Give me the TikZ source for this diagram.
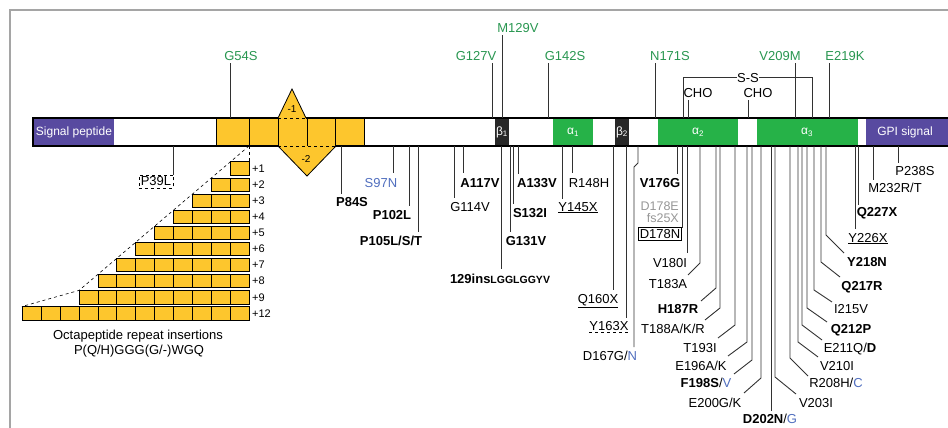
\documentclass[tikz,border=0pt]{standalone}
\usepackage{fontspec}
\setmainfont{Liberation Sans}
\definecolor{tgreen}{RGB}{40,150,80}
\definecolor{fgreen}{RGB}{38,178,72}
\definecolor{purp}{RGB}{88,74,160}
\definecolor{yel}{RGB}{253,198,45}
\definecolor{dk}{RGB}{40,40,40}
\definecolor{bl}{RGB}{80,110,190}
\definecolor{lg}{RGB}{150,150,150}
\definecolor{framec}{RGB}{165,165,165}
\definecolor{ln}{RGB}{50,50,50}
\tikzset{
 lab/.style={inner sep=0pt, anchor=base, font=\fontsize{13}{15}\selectfont, text=black},
 toplab/.style={lab, text=tgreen},
 inlab/.style={inner sep=0pt, font=\fontsize{12}{14}\selectfont, text=white},
 conn/.style={draw=ln, line width=0.9pt},
 ybox/.style={fill=yel, draw=black, line width=0.6pt},
 smalllab/.style={inner sep=0pt, font=\fontsize{11}{13}\selectfont},
 barline/.style={line width=2pt, draw=black},
}
% vertical mutation: name, x, yend, label x, label baseline, text
\newcommand\mutv[6]{%
 \coordinate (#1b) at (#2,146);
 \coordinate (#1e) at (#2,#3);
 \node[lab] (#1) at (#4,#5) {#6};
 \draw[conn] (#1b) -- (#1e);}
% bent mutation: name, x, ybend, xend, yend, label x, label baseline, text
\newcommand\mutb[8]{%
 \coordinate (#1b) at (#2,146);
 \coordinate (#1k) at (#2,#3);
 \coordinate (#1e) at (#4,#5);
 \node[lab] (#1) at (#6,#7) {#8};
 \draw[conn] (#1b) -- (#1k) -- (#1e);}
% top mutation: name, x, ytop, label x, label baseline, text
\newcommand\mutt[6]{%
 \coordinate (#1b) at (#2,118);
 \coordinate (#1e) at (#2,#3);
 \node[toplab] (#1) at (#4,#5) {#6};
 \draw[conn] (#1b) -- (#1e);}
\begin{document}
\begin{tikzpicture}[x=1pt,y=-1pt]
\useasboundingbox (0,0) rectangle (948,428);
\draw[framec, line width=1.5pt] (948,10) -- (10,10) -- (10,428);

% bar fills
\fill[purp] (33,118) rectangle (114,146);
\fill[yel] (216,118) rectangle (364,146);
\fill[dk] (495,118) rectangle (509,146);
\fill[fgreen] (553,118) rectangle (593,146);
\fill[dk] (615,118) rectangle (629,146);
\fill[fgreen] (658,118) rectangle (738,146);
\fill[fgreen] (757,118) rectangle (858,146);
\fill[purp] (866,118) rectangle (952,146);
\foreach \xx in {216,249,278,307,335,364} \draw[black, line width=0.8pt] (\xx,118) -- (\xx,146);

% deletion triangles
\fill[yel] (278,118) -- (292,89) -- (306,118) -- cycle;
\draw[black, line width=0.8pt] (278,118) -- (292,89) -- (306,118);
\draw[black, line width=0.6pt, dashed] (278,118) -- (306,118);
\fill[yel] (278,146) -- (307,176) -- (336,146) -- cycle;
\draw[black, line width=0.8pt] (278,146) -- (307,176) -- (336,146);
\draw[black, line width=0.6pt, dashed] (278,146) -- (336,146);
\node[inner sep=0pt, font=\fontsize{10}{12}\selectfont] (del1) at (292,109) {-1};
\node[inner sep=0pt, font=\fontsize{10}{12}\selectfont] (del2) at (306,159) {-2};

% bar outline
\draw[barline] (278,118) -- (33,118) -- (33,146) -- (278,146);
\draw[barline] (306,118) -- (952,118);
\draw[barline] (336,146) -- (952,146);

% inner labels
\node[inlab] (sp) at (74,132) {Signal peptide};
\node[inlab] (gpi) at (905,132) {GPI signal};
\node[inlab] (beta1) at (502,132) {β\textsubscript{1}};
\node[inlab] (alpha1) at (573,132) {α\textsubscript{1}};
\node[inlab] (beta2) at (622,132) {β\textsubscript{2}};
\node[inlab] (alpha2) at (698,132) {α\textsubscript{2}};
\node[inlab] (alpha3) at (807,132) {α\textsubscript{3}};

% top mutations
\mutt{g54}{230}{63}{241}{61}{G54S}
\mutt{g127}{492}{63}{476}{61}{G127V}
\mutt{m129}{502}{35}{518}{33}{M129V}
\mutt{g142}{548}{63}{565}{61}{G142S}
\mutt{n171}{655}{63}{670}{61}{N171S}
\mutt{v209}{795}{63}{780}{61}{V209M}
\mutt{e219}{829}{63}{845}{61}{E219K}

% S-S and CHO
\node[lab] (ss) at (748,82) {S-S};
\coordinate (ssl) at (683,118);
\coordinate (ssr) at (812,118);
\draw[conn] (ssl) -- (683,77) -- (ss.west |- 0,77);
\draw[conn] (ss.east |- 0,77) -- (812,77) -- (ssr);
\node[lab] (cho1) at (698,98) {CHO};
\node[lab] (cho2) at (758,98) {CHO};
\coordinate (cho1b) at (688,118);
\coordinate (cho2b) at (748,118);
\draw[conn] (cho1b) -- (688,100);
\draw[conn] (cho2b) -- (748,100);

% octapeptide insertions
\foreach \i/\n/\t in {1/1/+1,2/2/+2,3/3/+3,4/4/+4,5/5/+5,6/6/+6,7/7/+7,8/8/+8,9/9/+9,10/12/+12}{
  \pgfmathsetmacro{\yt}{161.7+16.1*(\i-1)}
  \foreach \k in {1,...,\n}{
    \draw[ybox] ({249-18.9*\k},\yt) rectangle ({249-18.9*(\k-1)},\yt+13.3);
  }
  \node[smalllab, anchor=west] (ins\i) at (252,\yt+6.8) {\t};
}
\draw[black, line width=0.6pt, dashed] (249,146) -- (249,161.7);
\draw[black, line width=0.6pt, dashed] (249,146) -- (79,290.4) -- (22,306.5);
\node[lab] (octa1) at (138,339) {Octapeptide repeat insertions};
\node[lab] (octa2) at (139,354) {P(Q/H)GGG(G/-)WGQ};

% P39L
\coordinate (p39b) at (173,146);
\node[lab, anchor=center, draw=black, dashed, line width=0.6pt, inner sep=2pt] (p39) at (156,181.5) {P39L};
\draw[conn] (p39b) -- (173,174.5);

% bottom mutations
\mutv{p84}{341}{194}{352}{206}{\bfseries P84S}
\mutv{s97}{393}{173}{381}{187}{\textcolor{bl}{S97N}}
\mutv{p102}{409}{206}{392}{219}{\bfseries P102L}
\mutv{p105}{418}{232}{391}{245}{\bfseries P105L/S/T}
\mutv{g114}{454}{198}{470}{211}{G114V}
\mutv{a117}{463}{173}{480}{187}{\bfseries A117V}
\mutv{ins129}{501}{269}{500}{283}{\bfseries 129ins{\fontsize{10.5}{12}\selectfont LGGLGGYV}}
\mutv{g131}{510}{232}{526}{245}{\bfseries G131V}
\mutv{s132}{513}{204}{530}{217}{\bfseries S132I}
\mutv{a133}{518}{174}{537}{187}{\bfseries A133V}
\mutv{y145}{562}{199}{578}{211}{\underline{Y145X}}
\mutv{r148}{572}{173}{589}{187}{R148H}
\mutv{q160}{613}{290}{598}{303}{\underline{Q160X}}
\mutv{y163}{626}{318}{609}{330}{Y163X}
\draw[black, line width=0.6pt, dashed] ([yshift=-2.5pt]y163.base west) -- ([yshift=-2.5pt]y163.base east);

\coordinate (d167b) at (638,146);
\coordinate (d167k1) at (638,163);
\coordinate (d167k2) at (634,167);
\coordinate (d167e) at (634,347);
\node[lab] (d167) at (610,360) {D167G/\textcolor{bl}{N}};
\draw[conn] (d167b) -- (d167k1) -- (d167k2) -- (d167e);

\mutv{v176}{677}{174}{660}{187}{\bfseries V176G}
\node[inner sep=0pt, anchor=north east, align=right, text=lg, font=\fontsize{12.5}{12.5}\selectfont] (d178e) at (679,201.5) {D178E\\fs25X};
\coordinate (d178b) at (682,146);
\node[lab, anchor=center, draw=black, line width=0.8pt, inner sep=1.5pt] (d178n) at (660,234) {D178N};
\draw[conn] (d178b) -- (682,227.8);
\mutv{v180}{687}{253}{670}{267}{V180I}
\mutb{t183}{700}{263}{688}{275}{668}{288}{T183A}
\mutb{h187}{716}{288}{701}{301}{678}{313}{\bfseries H187R}
\mutb{t188}{720}{308}{705}{320}{673}{333}{T188A/K/R}
\mutb{t193}{735}{325}{718}{338}{700}{352}{T193I}
\mutb{e196}{747}{342}{728}{356}{701}{370}{E196A/K}
\mutb{f198}{752}{360}{734}{374}{706}{387}{{\bfseries F198S}/\textcolor{bl}{V}}
\mutb{e200}{761}{378}{744}{393}{715}{407}{E200G/K}
\mutv{d202}{771}{411}{770}{423}{{\bfseries D202N}/\textcolor{bl}{G}}
\mutb{v203}{775}{377}{796}{394}{816}{407}{V203I}
\mutb{r208}{790}{358}{808}{376}{836}{387}{R208H/\textcolor{bl}{C}}
\mutb{v210}{798}{342}{818}{357}{837}{370}{V210I}
\mutb{e211}{802}{325}{822}{340}{850}{352}{E211Q/{\bfseries D}}
\mutb{q212}{807}{308}{827}{322}{851}{333}{\bfseries Q212P}
\mutb{i215}{814}{290}{832}{302}{851}{313}{I215V}
\mutb{q217}{821}{262}{840}{277}{862}{290}{\bfseries Q217R}
\mutb{y218}{826}{235}{844}{253}{867}{266}{\bfseries Y218N}
\mutv{y226}{855}{229}{868}{242}{\underline{Y226X}}
\mutv{q227}{858}{205}{877}{216}{\bfseries Q227X}
\mutv{m232}{873}{180}{895}{192}{M232R/T}
\mutv{p238}{898}{163}{915}{175}{P238S}
\end{tikzpicture}
\end{document}
